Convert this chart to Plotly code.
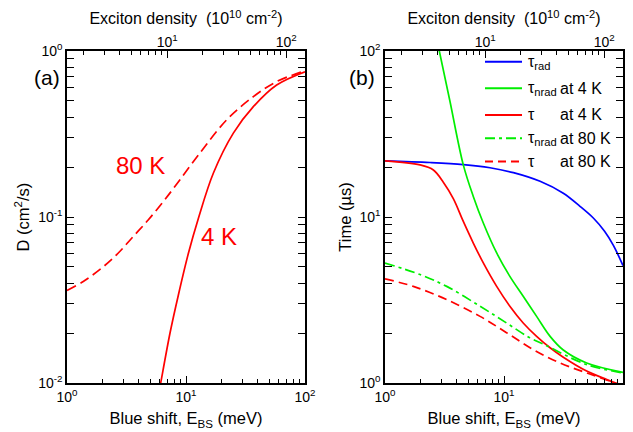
import math
import plotly.graph_objects as go

# ---------------- data ----------------
# Panel (a): diffusion coefficient D (cm^2/s) vs blue shift E_BS (meV)
E_80K_a = [1.0, 1.37, 1.96, 2.70, 3.61, 4.83, 6.45, 8.09, 13.1, 22.0, 36.8, 57.8, 100.0]
D_80K_a = [0.0361, 0.0409, 0.0493, 0.0607, 0.0764, 0.0962, 0.124, 0.153, 0.243, 0.385, 0.531, 0.654, 0.76]
E_4K_a = [6.0, 6.13, 7.34, 8.62, 10.45, 12.7, 17.0, 25.0, 36.8, 57.8, 100.0]
D_4K_a = [0.0092, 0.010, 0.020, 0.0338, 0.0600, 0.098, 0.184, 0.320, 0.462, 0.624, 0.75]

# Panel (b): lifetimes (µs) vs blue shift E_BS (meV)
E_rad = [1.0, 2.39, 4.55, 7.63, 12.0, 20.1, 31.5, 43.5, 56.3, 70.0, 83.0, 100.0]
tau_rad = [21.8, 21.3, 20.7, 19.8, 18.5, 16.4, 13.9, 11.6, 9.86, 8.2, 6.74, 5.1]

E_nrad4 = [2.6, 2.86, 3.5, 4.55, 5.52, 6.70, 8.68, 11.2, 14.5, 18.8, 24.4, 31.5, 49.5, 100.0]
tau_nrad4 = [140.0, 100.0, 50.5, 20.6, 13.3, 9.2, 6.07, 4.39, 3.33, 2.52, 1.91, 1.58, 1.32, 1.16]

E_tau4 = [1.0, 1.97, 2.55, 3.09, 3.75, 4.55, 5.52, 6.70, 8.68, 11.2, 14.5, 18.8, 24.4, 31.5, 49.5, 77.8, 100.0]
tau_4 = [21.8, 20.6, 19.2, 16.2, 12.9, 9.4, 6.97, 5.29, 3.82, 2.90, 2.30, 1.91, 1.63, 1.43, 1.18, 1.03, 0.95]

E_nrad80 = [1.0, 1.97, 3.30, 6.29, 10.5, 16.5, 22.0, 49.5, 100.0]
tau_nrad80 = [5.28, 4.5, 3.82, 2.90, 2.30, 1.87, 1.70, 1.29, 1.15]

E_tau80 = [1.0, 1.73, 3.30, 6.29, 10.5, 17.6, 29.6, 49.5, 83.0, 100.0]
tau_80 = [4.24, 3.82, 3.18, 2.52, 2.01, 1.59, 1.32, 1.15, 1.01, 0.97]

# axis ticks
x_tickvals = [1, 10, 100]
x_ticktext = ["10<sup>0</sup>", "10<sup>1</sup>", "10<sup>2</sup>"]
ya_tickvals = [0.01, 0.1, 1]
ya_ticktext = ["10<sup>-2</sup>", "10<sup>-1</sup>", "10<sup>0</sup>"]
yb_tickvals = [1, 10, 100]
yb_ticktext = ["10<sup>0</sup>", "10<sup>1</sup>", "10<sup>2</sup>"]
top_tickvals = [10, 100]
top_ticktext = ["10<sup>1</sup>", "10<sup>2</sup>"]
density_per_meV = 1.44  # exciton density (1e10 cm^-2) per meV of blue shift

minor_vals = [m * 10 ** k for k in range(-3, 4) for m in range(2, 10)]

# ---------------- layout helpers ----------------
W, H = 633, 432
MT, MB = 51, 48.5
PH = H - MT - MB
FONT = "Liberation Sans, Arial, sans-serif"


def px(x):
    return x / W


def py(y):
    return (H - MB - y) / PH


RED = "#ff0000"
GREEN = "#00ee00"
BLUE = "#0000ff"
LW = 1.7
SPL = dict(shape="spline", smoothing=1.0)

fig = go.Figure()

# panel (a)
fig.add_trace(go.Scatter(x=E_80K_a, y=D_80K_a, mode="lines", xaxis="x", yaxis="y",
                         line=dict(color=RED, width=LW, dash="10px,5px", **SPL)))
fig.add_trace(go.Scatter(x=E_4K_a, y=D_4K_a, mode="lines", xaxis="x", yaxis="y",
                         line=dict(color=RED, width=LW, **SPL)))

# panel (b)
fig.add_trace(go.Scatter(x=E_rad, y=tau_rad, mode="lines", xaxis="x2", yaxis="y2",
                         line=dict(color=BLUE, width=LW, **SPL)))
fig.add_trace(go.Scatter(x=E_nrad4, y=tau_nrad4, mode="lines", xaxis="x2", yaxis="y2",
                         line=dict(color=GREEN, width=LW, **SPL)))
fig.add_trace(go.Scatter(x=E_tau4, y=tau_4, mode="lines", xaxis="x2", yaxis="y2",
                         line=dict(color=RED, width=LW, **SPL)))
fig.add_trace(go.Scatter(x=E_nrad80, y=tau_nrad80, mode="lines", xaxis="x2", yaxis="y2",
                         line=dict(color=GREEN, width=LW, dash="10px,4px,3px,4px", **SPL)))
fig.add_trace(go.Scatter(x=E_tau80, y=tau_80, mode="lines", xaxis="x2", yaxis="y2",
                         line=dict(color=RED, width=LW, dash="9px,5px", **SPL)))

# invisible traces so the top (density) axes are rendered
dens_a = [1 * density_per_meV, 100 * density_per_meV]
fig.add_trace(go.Scatter(x=dens_a, y=[0.5, 0.5], mode="markers", xaxis="x3", yaxis="y",
                         marker=dict(opacity=0), hoverinfo="skip"))
fig.add_trace(go.Scatter(x=dens_a, y=[5, 5], mode="markers", xaxis="x4", yaxis="y2",
                         marker=dict(opacity=0), hoverinfo="skip"))

tick_font = dict(family=FONT, size=14, color="black")
title_font = dict(family=FONT, size=16.5, color="black")


def xbottom(domain, anchor):
    return dict(type="log", range=[0, 2], domain=domain, anchor=anchor,
                showline=True, linecolor="black", linewidth=1.5, mirror=True,
                ticks="inside", ticklen=7, tickwidth=1.2, tickcolor="black",
                tickvals=x_tickvals, ticktext=x_ticktext, tickfont=tick_font,
                minor=dict(ticks="inside", ticklen=4, tickwidth=1.2, tickcolor="black", tickvals=minor_vals),
                showgrid=False, zeroline=False, automargin=False,
                title=dict(text="Blue shift, E<sub>BS</sub> (meV)", font=title_font, standoff=9))


def xtop(overlay, anchor):
    lo = math.log10(density_per_meV)
    return dict(type="log", range=[lo, lo + 2], overlaying=overlay, anchor=anchor, side="top",
                showline=False,
                ticks="inside", ticklen=7, tickwidth=1.2, tickcolor="black",
                tickvals=top_tickvals, ticktext=top_ticktext, tickfont=tick_font,
                minor=dict(ticks="inside", ticklen=4, tickwidth=1.2, tickcolor="black", tickvals=minor_vals),
                showgrid=False, zeroline=False, automargin=False,
                title=dict(text="Exciton density  (10<sup>10</sup> cm<sup>-2</sup>)",
                           font=dict(family=FONT, size=16, color="black"), standoff=3))


def yaxis(rng, tv, tt, title, anchor):
    return dict(type="log", range=rng, domain=[0, 1], anchor=anchor,
                showline=True, linecolor="black", linewidth=1.5, mirror="allticks",
                ticks="inside", ticklen=7, tickwidth=1.2, tickcolor="black",
                tickvals=tv, ticktext=tt, tickfont=tick_font,
                minor=dict(ticks="inside", ticklen=4, tickwidth=1.2, tickcolor="black", tickvals=minor_vals),
                showgrid=False, zeroline=False, automargin=False,
                title=dict(text=title, font=title_font, standoff=4))


fig.update_layout(
    template="none",
    width=W, height=H,
    margin=dict(l=0, r=0, t=MT, b=MB, pad=0),
    paper_bgcolor="white", plot_bgcolor="white",
    showlegend=False,
    font=dict(family=FONT, color="black"),
    xaxis=xbottom([px(67), px(305)], "y"),
    yaxis=yaxis([-2, 0], ya_tickvals, ya_ticktext, "D (cm<sup>2</sup>/s)", "x"),
    xaxis2=xbottom([px(385), px(623)], "y2"),
    yaxis2=yaxis([0, 2], yb_tickvals, yb_ticktext, "Time (µs)", "x2"),
    xaxis3=xtop("x", "y"),
    xaxis4=xtop("x2", "y2"),
)

annotations = [
    dict(text="(a)", x=px(46.5), y=py(78), font=dict(family=FONT, size=21)),
    dict(text="(b)", x=px(361.5), y=py(78), font=dict(family=FONT, size=21)),
    dict(text="80 K", x=px(140), y=py(166), font=dict(family=FONT, size=24, color=RED)),
    dict(text="4 K", x=px(218.5), y=py(236.5), font=dict(family=FONT, size=24, color=RED)),
]
for a in annotations:
    a["xanchor"] = "center"
    a["yanchor"] = "middle"

# legend (panel b), drawn by hand
leg_rows = [
    ("τ<sub>rad</sub>", "", BLUE, "solid"),
    ("τ<sub>nrad</sub>", "at 4 K", GREEN, "solid"),
    ("τ", "at 4 K", RED, "solid"),
    ("τ<sub>nrad</sub>", "at 80 K", GREEN, "10px,4px,3px,4px"),
    ("τ", "at 80 K", RED, "8px,5px"),
]
leg_y = [61.7, 88.3, 115, 138.3, 161.7]
shapes = []
for (sym, txt, col, dash), yy in zip(leg_rows, leg_y):
    shapes.append(dict(type="line", xref="paper", yref="paper", x0=px(485), x1=px(522),
                       y0=py(yy), y1=py(yy), line=dict(color=col, width=2, dash=dash)))
    annotations.append(dict(text=sym, x=px(526), y=py(yy - 1), xanchor="left", yanchor="top",
                            font=dict(family=FONT, size=16), yshift=10))
    if txt:
        annotations.append(dict(text=txt, x=px(558), y=py(yy), xanchor="left", yanchor="middle",
                                font=dict(family=FONT, size=16)))

for a in annotations:
    a.setdefault("xref", "paper")
    a.setdefault("yref", "paper")
    a.setdefault("showarrow", False)

fig.update_layout(annotations=annotations, shapes=shapes)

fig.write_html("out.html", config={"displayModeBar": False},
               post_script="document.body.style.margin='0px';")
